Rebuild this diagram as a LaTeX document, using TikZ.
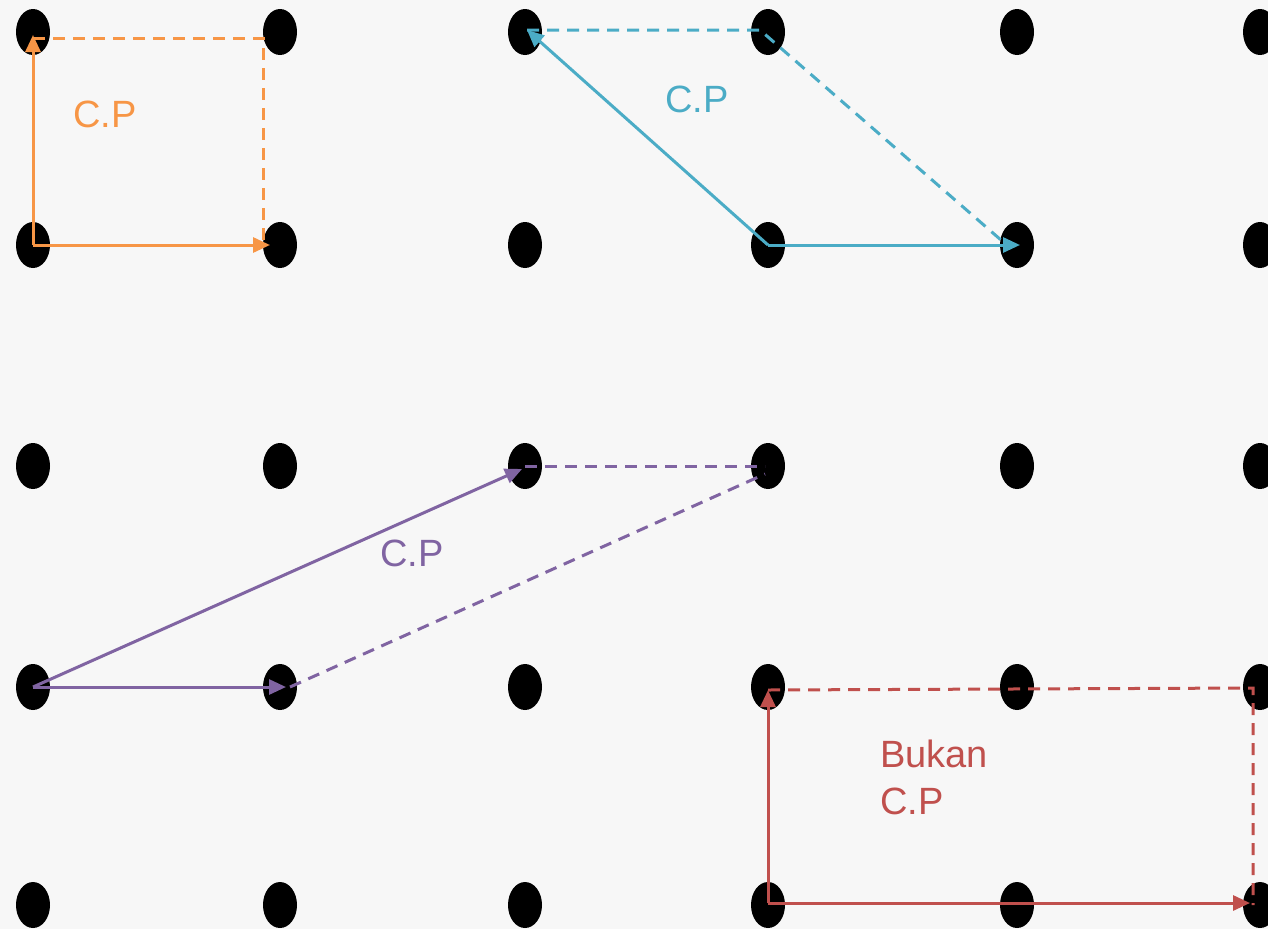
\documentclass[tikz,border=0pt]{standalone}
\usepackage{fontspec}
\setmainfont{Liberation Sans}
\usetikzlibrary{arrows.meta,shapes.geometric}
\definecolor{cporange}{HTML}{F79646}
\definecolor{cpcyan}{HTML}{4BACC6}
\definecolor{cppurple}{HTML}{8064A2}
\definecolor{cpred}{HTML}{C0504D}
\definecolor{bggray}{RGB}{247,247,247}
\tikzset{
  dot/.style={ellipse,fill=black,minimum width=34pt,minimum height=46pt,inner sep=0pt},
  vec/.style={line width=3pt,-{Triangle[length=17pt,width=15pt]}},
  dashln/.style={line width=3pt,dash pattern=on 12pt off 8pt},
  lbl/.style={inner sep=0pt,font=\fontsize{38}{47}\selectfont,align=left}
}
\begin{document}
\begin{tikzpicture}[x=1pt,y=-1pt]
\useasboundingbox[fill=bggray] (0,0) rectangle (1268,929);
% dots
\foreach \c/\x in {1/33,2/280,3/525,4/768,5/1017,6/1260}{
  \foreach \r/\y in {1/32,2/245,3/466,4/687,5/905}{
    \node[dot] (d\c\r) at (\x,\y) {};
  }
}
% orange
\draw[dashln,cporange] ([yshift=-6pt]d11.center) -- ([xshift=-17pt,yshift=-6pt]d21.center) -- ([xshift=-17pt]d22.center);
\draw[vec,cporange] (d12.center) -- ([yshift=-3pt]d11.center);
\draw[vec,cporange] (d12.center) -- ([xshift=-10pt]d22.center);
\node[lbl,cporange,anchor=base west] (l1) at (73,127) {C.P};
% cyan
\draw[dashln,cpcyan] ([xshift=2pt,yshift=2pt]d31.center) -- ([xshift=-8pt,yshift=2pt]d41.center) -- ([xshift=-8pt,yshift=-2pt]d52.center);
\draw[vec,cpcyan] (d42.center) -- ([xshift=2pt,yshift=2pt]d31.center);
\draw[vec,cpcyan] (d42.center) -- ([xshift=3pt]d52.center);
\node[lbl,cpcyan,anchor=base west] (l2) at (665,112) {C.P};
% purple
\draw[dashln,cppurple] (d33.center) -- ([xshift=-3pt]d43.center);
\draw[dashln,cppurple] ([xshift=10pt]d24.center) -- ([xshift=-3pt,yshift=-8pt]d43.center);
\draw[vec,cppurple] (d14.center) -- ([xshift=-3pt,yshift=-3pt]d33.center);
\draw[vec,cppurple] (d14.center) -- ([xshift=6pt]d24.center);
\node[lbl,cppurple,anchor=base west] (l3) at (380,566) {C.P};
% red
\draw[dashln,cpred] ([yshift=-3pt]d44.center) -- ([xshift=-7pt,yshift=-1pt]d64.center) -- ([xshift=-7pt]d65.center);
\draw[vec,cpred] ([yshift=2pt]d45.center) -- ([yshift=-3pt]d44.center);
\draw[vec,cpred] ([yshift=2pt]d45.center) -- ([xshift=-10pt,yshift=2pt]d65.center);
\node[lbl,cpred,anchor=north west] (l4) at (880,740) {Bukan\\C.P};
\end{tikzpicture}
\end{document}
